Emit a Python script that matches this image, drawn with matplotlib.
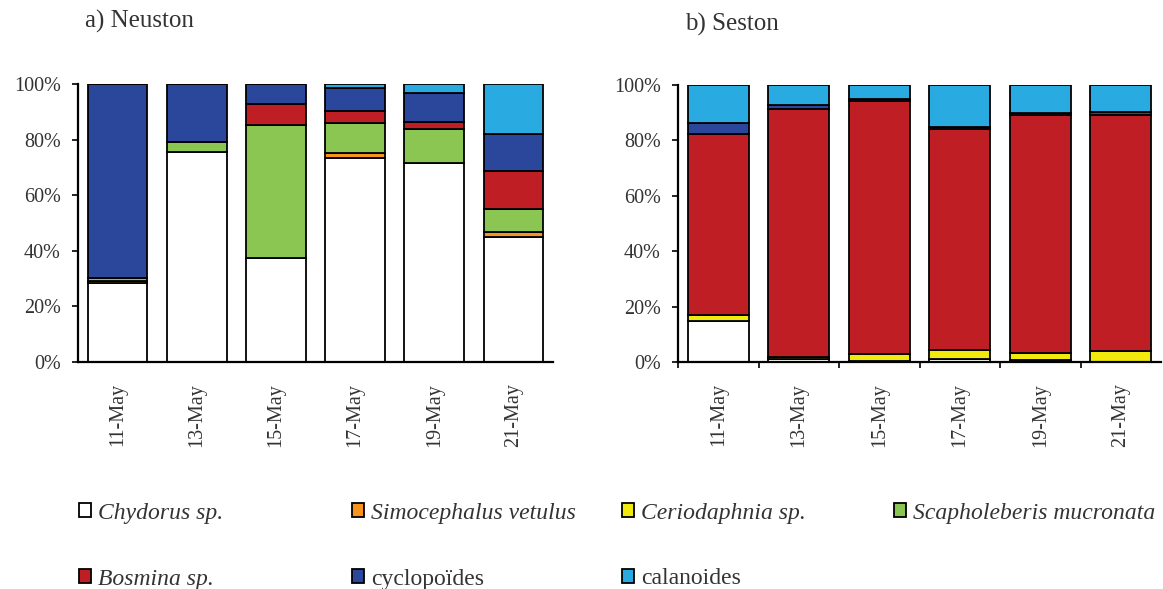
import matplotlib
matplotlib.use("Agg")
import matplotlib.pyplot as plt
from matplotlib.patches import Patch
import numpy as np

# Data (percent of each group per sampling date)

dates = ["11-May", "13-May", "15-May", "17-May", "19-May", "21-May"]
groups = ["Chydorus sp.", "Simocephalus vetulus", "Ceriodaphnia sp.", "Scapholeberis mucronata",
          "Bosmina sp.", "cyclopoïdes", "calanoides"]
italic_groups = [True, True, True, True, True, False, False]
colors = ["#FFFFFF", "#F7941D", "#F2EA0C", "#8BC652", "#BE1E24", "#2B479B", "#29ABE2"]

neuston_chydorus = [28.3, 75.7, 37.5, 73.3, 71.7, 44.8]
neuston_simocephalus = [0.0, 0.0, 0.0, 1.8, 0.0, 1.8]
neuston_ceriodaphnia = [0.8, 0.0, 0.0, 0.0, 0.0, 0.0]
neuston_scapholeberis = [1.2, 3.4, 47.8, 10.8, 12.0, 8.6]
neuston_bosmina = [0.0, 0.0, 7.5, 4.5, 2.8, 13.6]
neuston_cyclopoides = [69.7, 20.9, 7.2, 8.0, 10.1, 13.2]
neuston_calanoides = [0.0, 0.0, 0.0, 1.6, 3.4, 18.0]

seston_chydorus = [14.8, 1.0, 0.3, 1.0, 0.7, 0.0]
seston_simocephalus = [0.0, 0.0, 0.0, 0.0, 0.0, 0.0]
seston_ceriodaphnia = [2.2, 0.7, 2.5, 3.3, 2.7, 4.0]
seston_scapholeberis = [0.0, 0.0, 0.0, 0.0, 0.0, 0.0]
seston_bosmina = [65.3, 89.6, 91.5, 79.9, 85.6, 85.0]
seston_cyclopoides = [4.0, 1.5, 0.6, 0.5, 0.8, 1.4]
seston_calanoides = [13.7, 7.2, 5.1, 15.3, 10.2, 9.6]

neuston = [neuston_chydorus, neuston_simocephalus, neuston_ceriodaphnia, neuston_scapholeberis,
           neuston_bosmina, neuston_cyclopoides, neuston_calanoides]
seston = [seston_chydorus, seston_simocephalus, seston_ceriodaphnia, seston_scapholeberis,
          seston_bosmina, seston_cyclopoides, seston_calanoides]

plt.rcParams["font.family"] = ["Liberation Serif", "DejaVu Serif"]
text_color = "#333333"

W, H = 1163, 589
fig = plt.figure(figsize=(W / 100, H / 100), dpi=100)


def draw_panel(rect, series, title, title_xy, boundary_ticks):
    ax = fig.add_axes(rect)
    x = np.arange(len(dates))
    bottom = np.zeros(len(dates))
    for vals, col in zip(series, colors):
        vals = np.array(vals)
        ax.bar(x, vals, bottom=bottom, width=0.755, color=col, edgecolor="black", linewidth=1.3)
        bottom += vals
    ax.set_xlim(-0.5, len(dates) - 0.5)
    ax.set_ylim(0, 100)
    ax.set_yticks(np.arange(0, 101, 20))
    ax.set_yticklabels([f"{v}%" for v in range(0, 101, 20)])
    ax.set_xticks(x)
    ax.set_xticklabels(dates, rotation=90)
    ax.tick_params(axis="x", length=0, pad=15, labelsize=14.5, labelcolor=text_color)
    ax.tick_params(axis="y", length=4.5, width=1.2, pad=8, labelsize=14.5, labelcolor=text_color)
    if boundary_ticks:
        ax.set_xticks(np.arange(-0.5, len(dates) - 0.5, 1), minor=True)
        ax.tick_params(axis="x", which="minor", length=4.5, width=1.2, direction="out")
    for s in ["top", "right"]:
        ax.spines[s].set_visible(False)
    for s in ["left", "bottom"]:
        ax.spines[s].set_linewidth(1.6)
    fig.text(title_xy[0] / W, 1 - title_xy[1] / H, title, fontsize=18, color=text_color,
             ha="left", va="center")
    return ax


draw_panel([78 / W, 1 - 362 / H, 475 / W, 278 / H], neuston, "a) Neuston", (85, 21), False)
draw_panel([678 / W, 1 - 362 / H, 483 / W, 277 / H], seston, "b) Seston", (685, 24), True)

# Legend, placed entry by entry like the original layout
legend_pos = [(79, 513), (352, 513), (622, 513), (894, 513),
              (79, 579), (352, 579), (622, 579)]
for name, col, ital, (px, py) in zip(groups, colors, italic_groups, legend_pos):
    leg = fig.legend(handles=[Patch(facecolor=col, edgecolor="black", linewidth=1.3)], labels=[name],
                     loc="center left", bbox_to_anchor=(px / W, 1 - py / H), frameon=False,
                     handlelength=0.5, handleheight=0.55, handletextpad=0.3, borderpad=0,
                     borderaxespad=0, fontsize=17)
    for t in leg.get_texts():
        t.set_color(text_color)
        if ital:
            t.set_fontstyle("italic")

fig.savefig("out.png", dpi=100)
